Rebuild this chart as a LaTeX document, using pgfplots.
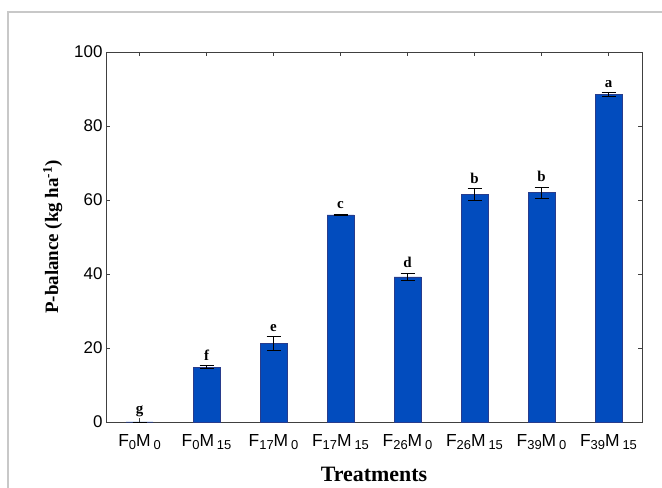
\documentclass[border=0pt]{standalone}
\usepackage{pgfplots}
\pgfplotsset{compat=1.18}
\usepackage{pgfplotstable}
\usepackage{fontspec}
\setmainfont{Liberation Serif}
\setsansfont{Liberation Sans}

\definecolor{barblue}{RGB}{2,76,190}
\definecolor{baredge}{RGB}{40,60,140}
\definecolor{framegray}{RGB}{200,200,200}

% x  value  err
\pgfplotstableread{
x y err
0 0.0 0.0
1 14.8 0.4
2 21.2 1.8
3 56.0 0.2
4 39.2 1.0
5 61.5 1.5
6 62.0 1.5
7 88.5 0.5
}\pbal

\tikzset{letter/.style={font=\bfseries\fontsize{15}{15}\selectfont, anchor=south, inner sep=0pt, yshift=5bp}}
% treatment label: F with fertiliser dose, M with manure dose
\newcommand\trt[2]{F\raisebox{-0.35ex}{\fontsize{13}{13}\selectfont #1}M\,\raisebox{-0.35ex}{\fontsize{13}{13}\selectfont #2}}

\begin{document}
\begin{tikzpicture}[x=1bp,y=1bp]
\useasboundingbox (0,0) rectangle (662,488);
% figure frame
\draw[framegray, line width=1.2bp] (8,-5) -- (8,476) -- (670,476);
\begin{axis}[
  at={(106bp,66bp)}, anchor=south west,
  scale only axis, width=536bp, height=370bp,
  xmin=-0.5, xmax=7.5, ymin=0, ymax=100,
  xtick={0,...,7},
  xticklabels={\trt{0}{0},\trt{0}{15},\trt{17}{0},\trt{17}{15},
               \trt{26}{0},\trt{26}{15},\trt{39}{0},\trt{39}{15}},
  ytick={0,20,...,100},
  tick align=inside, major tick length=4bp,
  tick style={black!75, line width=0.6bp},
  axis line style={black!75, line width=0.9bp},
  /pgf/number format/assume math mode=true,
  yticklabel style={font=\sffamily\fontsize{17}{17}\selectfont},
  xticklabel style={font=\sffamily\fontsize{17.5}{17.5}\selectfont, yshift=-9bp},
  xlabel={\textbf{Treatments}},
  xlabel style={font=\fontsize{22}{22}\selectfont, yshift=-10bp},
  ylabel={\textbf{P-balance (kg ha\textsuperscript{-1})}},
  ylabel style={font=\fontsize{19}{19}\selectfont, yshift=5bp},
  clip=false,
]
\addplot[ybar, bar width=27bp, fill=barblue, draw=baredge, line width=0.5bp,
  error bars/.cd, y dir=both, y explicit,
  error bar style={black, line width=0.8bp},
  error mark options={rotate=90, black, mark size=7bp, line width=0.8bp}]
  table[x=x, y=y, y error=err] {\pbal};
% significance letters
\node[letter] at (axis cs:0,0.0) {g};
\node[letter] at (axis cs:1,15.2) {f};
\node[letter] at (axis cs:2,23.0) {e};
\node[letter] at (axis cs:3,56.2) {c};
\node[letter] at (axis cs:4,40.2) {d};
\node[letter] at (axis cs:5,63.0) {b};
\node[letter] at (axis cs:6,63.5) {b};
\node[letter] at (axis cs:7,89.0) {a};
\end{axis}
\end{tikzpicture}
\end{document}
